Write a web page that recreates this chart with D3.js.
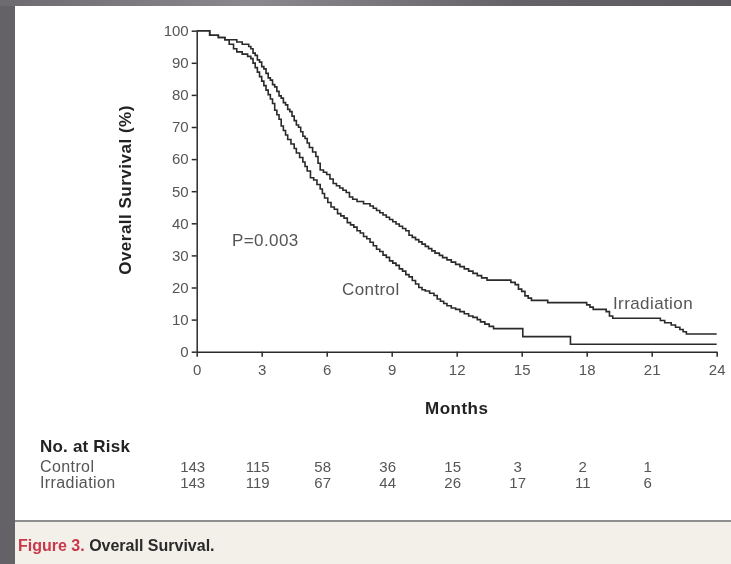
<!DOCTYPE html>
<html>
<head>
<meta charset="utf-8">
<script src="https://cdn.jsdelivr.net/npm/d3@7"></script>
<style>
  body { margin: 0; background: #615e64; }
  svg { display: block; }
</style>
</head>
<body>
<div id="chart"></div>
<script>
// Kaplan-Meier steps (month, % surviving)
var controlMonths = [0, 0.6, 1.0, 1.3, 1.5, 1.7, 1.85, 2.1, 2.35, 2.5, 2.6, 2.7, 2.8, 2.9, 3.0, 3.1, 3.2, 3.3, 3.4, 3.5, 3.6, 3.7, 3.8, 3.9, 4.0, 4.1, 4.2, 4.35, 4.5, 4.6, 4.75, 4.9, 5.0, 5.1, 5.25, 5.4, 5.55, 5.7, 5.8, 5.9, 6.05, 6.2, 6.35, 6.5, 6.65, 6.8, 6.95, 7.1, 7.25, 7.4, 7.55, 7.7, 7.85, 8.0, 8.15, 8.3, 8.45, 8.6, 8.75, 8.9, 9.05, 9.2, 9.35, 9.5, 9.65, 9.8, 9.95, 10.1, 10.25, 10.4, 10.55, 10.75, 10.95, 11.1, 11.25, 11.4, 11.55, 11.75, 11.95, 12.15, 12.35, 12.55, 12.75, 12.95, 13.1, 13.3, 13.5, 13.7, 15.05, 17.25, 24];
var controlSurvival = [100, 98.6, 97.9, 97.2, 95.8, 94.4, 93.4, 92.7, 92.0, 91.3, 89.9, 88.5, 87.1, 85.7, 84.3, 82.9, 81.5, 80.1, 78.7, 77.3, 75.2, 73.8, 72.4, 70.3, 68.9, 67.5, 66.1, 64.7, 63.3, 61.9, 60.5, 59.1, 57.7, 56.3, 54.2, 53.5, 52.1, 50.7, 49.3, 47.9, 46.5, 45.1, 44.4, 43.0, 42.3, 41.6, 40.2, 39.5, 38.8, 37.7, 37.0, 35.9, 35.2, 34.1, 33.0, 31.9, 31.2, 30.1, 29.4, 28.3, 27.6, 26.9, 25.8, 25.1, 24.0, 23.3, 22.2, 21.1, 20.0, 19.3, 18.9, 18.2, 17.5, 16.4, 15.7, 15.0, 14.3, 13.6, 13.2, 12.5, 11.8, 11.1, 10.7, 10.0, 9.3, 8.6, 7.9, 7.2, 4.7, 2.3, 2.3];

var irradiationMonths = [0, 0.6, 1.0, 1.3, 1.85, 2.1, 2.4, 2.5, 2.6, 2.7, 2.8, 2.9, 3.0, 3.1, 3.2, 3.3, 3.4, 3.5, 3.6, 3.7, 3.8, 3.9, 4.0, 4.1, 4.2, 4.3, 4.4, 4.5, 4.6, 4.7, 4.8, 4.9, 5.0, 5.1, 5.2, 5.35, 5.5, 5.6, 5.7, 5.85, 6.0, 6.15, 6.3, 6.45, 6.6, 6.75, 6.9, 7.05, 7.2, 7.4, 7.7, 8.0, 8.15, 8.3, 8.45, 8.6, 8.75, 8.9, 9.05, 9.2, 9.35, 9.5, 9.65, 9.8, 9.95, 10.1, 10.25, 10.4, 10.55, 10.7, 10.85, 11.0, 11.2, 11.35, 11.55, 11.75, 11.95, 12.15, 12.35, 12.55, 12.75, 12.95, 13.15, 13.4, 14.5, 14.7, 14.85, 15.0, 15.15, 15.3, 15.45, 16.2, 18.0, 18.15, 18.3, 18.9, 19.05, 19.2, 21.4, 21.6, 21.9, 22.1, 22.3, 22.45, 22.6, 24];
var irradiationSurvival = [100, 98.6, 97.9, 97.2, 96.5, 95.8, 95.1, 94.4, 93.0, 92.3, 90.9, 90.2, 88.8, 88.1, 86.7, 85.3, 84.6, 83.2, 82.5, 81.1, 79.7, 79.0, 77.6, 76.9, 75.5, 74.8, 73.4, 72.0, 70.6, 69.9, 68.5, 67.1, 66.4, 65.0, 63.6, 62.2, 60.8, 58.7, 56.6, 55.9, 55.2, 53.8, 52.4, 51.7, 51.0, 50.3, 49.6, 48.2, 47.5, 46.8, 46.1, 45.4, 44.7, 44.0, 43.3, 42.6, 41.9, 41.2, 40.5, 39.8, 39.1, 38.4, 37.7, 36.3, 35.6, 34.9, 34.2, 33.5, 32.8, 32.1, 31.4, 30.7, 30.0, 29.3, 28.6, 27.9, 27.2, 26.5, 25.8, 25.1, 24.4, 23.7, 23.0, 22.3, 21.6, 20.9, 19.5, 18.8, 17.4, 16.7, 16.0, 15.3, 14.6, 13.9, 13.2, 12.5, 11.1, 10.4, 9.7, 9.0, 8.3, 7.6, 6.9, 6.2, 5.5, 5.5];

var xTicks = [0, 3, 6, 9, 12, 15, 18, 21, 24];
var yTicks = [0, 10, 20, 30, 40, 50, 60, 70, 80, 90, 100];

var riskMonths = [0, 3, 6, 9, 12, 15, 18, 21];
var controlAtRisk = [143, 115, 58, 36, 15, 3, 2, 1];
var irradiationAtRisk = [143, 119, 67, 44, 26, 17, 11, 6];

var svgWidth = 731;
var svgHeight = 564;
var font = '"Liberation Sans", Arial, sans-serif';

var svg = d3.select('#chart').append('svg')
  .attr('width', svgWidth)
  .attr('height', svgHeight);

var defs = svg.append('defs');
var grad = defs.append('linearGradient').attr('id', 'frame')
  .attr('x1', 0).attr('x2', 1).attr('y1', 0).attr('y2', 0);
grad.append('stop').attr('offset', '0%').attr('stop-color', '#6d6a70');
grad.append('stop').attr('offset', '35%').attr('stop-color', '#8c898e');
grad.append('stop').attr('offset', '70%').attr('stop-color', '#656268');
grad.append('stop').attr('offset', '100%').attr('stop-color', '#5d5a60');
defs.append('filter').attr('id', 'soft')
  .append('feGaussianBlur').attr('stdDeviation', 0.45);

// frame and paper
svg.append('rect')
  .attr('width', svgWidth).attr('height', svgHeight)
  .attr('fill', 'url(#frame)');
svg.append('rect')
  .attr('x', 0).attr('y', 6).attr('width', 15).attr('height', svgHeight)
  .attr('fill', '#646167');
svg.append('rect')
  .attr('x', 15).attr('y', 6)
  .attr('width', svgWidth - 15).attr('height', svgHeight - 6)
  .attr('fill', '#ffffff');
svg.append('rect')
  .attr('x', 15).attr('y', 522)
  .attr('width', svgWidth - 15).attr('height', svgHeight - 522)
  .attr('fill', '#f3f0ea');
svg.append('line')
  .attr('x1', 15).attr('x2', svgWidth)
  .attr('y1', 521).attr('y2', 521)
  .attr('stroke', '#8f8f8f').attr('stroke-width', 2);

var g = svg.append('g').attr('filter', 'url(#soft)');

var xScale = d3.scaleLinear()
  .domain([0, 24])
  .range([196.7, 716.7]);
var yScale = d3.scaleLinear()
  .domain([0, 100])
  .range([351.7, 30.7]);

var xAxis = d3.axisBottom(xScale)
  .tickValues(xTicks)
  .tickSize(5)
  .tickPadding(8)
  .tickSizeOuter(0);
var yAxis = d3.axisLeft(yScale)
  .tickValues(yTicks)
  .tickSize(5)
  .tickPadding(3)
  .tickSizeOuter(0);

g.append('g')
  .attr('class', 'axis axis--x')
  .attr('transform', 'translate(0, ' + yScale(0) + ')')
  .call(xAxis);
g.append('g')
  .attr('class', 'axis axis--y')
  .attr('transform', 'translate(' + xScale(0) + ', 0)')
  .call(yAxis);

g.selectAll('.axis path, .axis line')
  .attr('stroke', '#2b2b2b')
  .attr('stroke-width', 1.5);
g.selectAll('.axis text')
  .attr('font-family', font)
  .attr('font-size', 15)
  .attr('fill', '#555');

var line = d3.line()
  .curve(d3.curveStepAfter)
  .x(function (d) { return xScale(d[0]); })
  .y(function (d) { return yScale(d[1]); });

var controlData = controlMonths.map(function (m, i) { return [m, controlSurvival[i]]; });
var irradiationData = irradiationMonths.map(function (m, i) { return [m, irradiationSurvival[i]]; });

g.append('path')
  .datum(controlData)
  .attr('d', line)
  .attr('fill', 'none')
  .attr('stroke', '#2a2a2a')
  .attr('stroke-width', 1.6);
g.append('path')
  .datum(irradiationData)
  .attr('d', line)
  .attr('fill', 'none')
  .attr('stroke', '#2a2a2a')
  .attr('stroke-width', 1.6);

// labels
function label(x, y, text, opts) {
  opts = opts || {};
  return g.append('text')
    .attr('x', x).attr('y', y)
    .attr('font-family', font)
    .attr('font-size', opts.size || 17)
    .attr('font-weight', opts.weight || 'normal')
    .attr('fill', opts.fill || '#555')
    .attr('letter-spacing', opts.spacing || 0.4)
    .attr('text-anchor', opts.anchor || 'start')
    .attr('dominant-baseline', 'middle')
    .text(text);
}

label(232, 242, 'P=0.003');
label(342, 291, 'Control');
label(613, 305, 'Irradiation');

label(xScale(12), 410, 'Months', { size: 17, weight: 'bold', fill: '#222', anchor: 'middle', spacing: 0.5 });

g.append('text')
  .attr('transform', 'translate(127, 190) rotate(-90)')
  .attr('font-family', font)
  .attr('font-size', 17)
  .attr('font-weight', 'bold')
  .attr('letter-spacing', 0.5)
  .attr('fill', '#222')
  .attr('text-anchor', 'middle')
  .attr('dominant-baseline', 'middle')
  .text('Overall Survival (%)');

// number at risk table
label(40, 448, 'No. at Risk', { size: 17, weight: 'bold', fill: '#222', spacing: 0.2 });
label(40, 468, 'Control', { size: 16 });
label(40, 484, 'Irradiation', { size: 16 });

function riskRow(values, y, cls) {
  g.selectAll('.' + cls)
    .data(values)
    .enter().append('text')
    .attr('class', cls)
    .attr('x', function (d, i) { return xScale(riskMonths[i]) - 4; })
    .attr('y', y)
    .attr('font-family', font).attr('font-size', 15).attr('fill', '#555')
    .attr('text-anchor', 'middle').attr('dominant-baseline', 'middle')
    .text(function (d) { return d; });
}
riskRow(controlAtRisk, 468, 'risk-control');
riskRow(irradiationAtRisk, 484, 'risk-irr');

// caption
var cap = g.append('text')
  .attr('x', 18).attr('y', 547)
  .attr('font-family', font)
  .attr('font-size', 16)
  .attr('dominant-baseline', 'middle');
cap.append('tspan').attr('fill', '#c8374a').attr('font-weight', 'bold').text('Figure 3. ');
cap.append('tspan').attr('fill', '#2a2a2a').attr('font-weight', 'bold').text('Overall Survival.');
</script>
</body>
</html>
